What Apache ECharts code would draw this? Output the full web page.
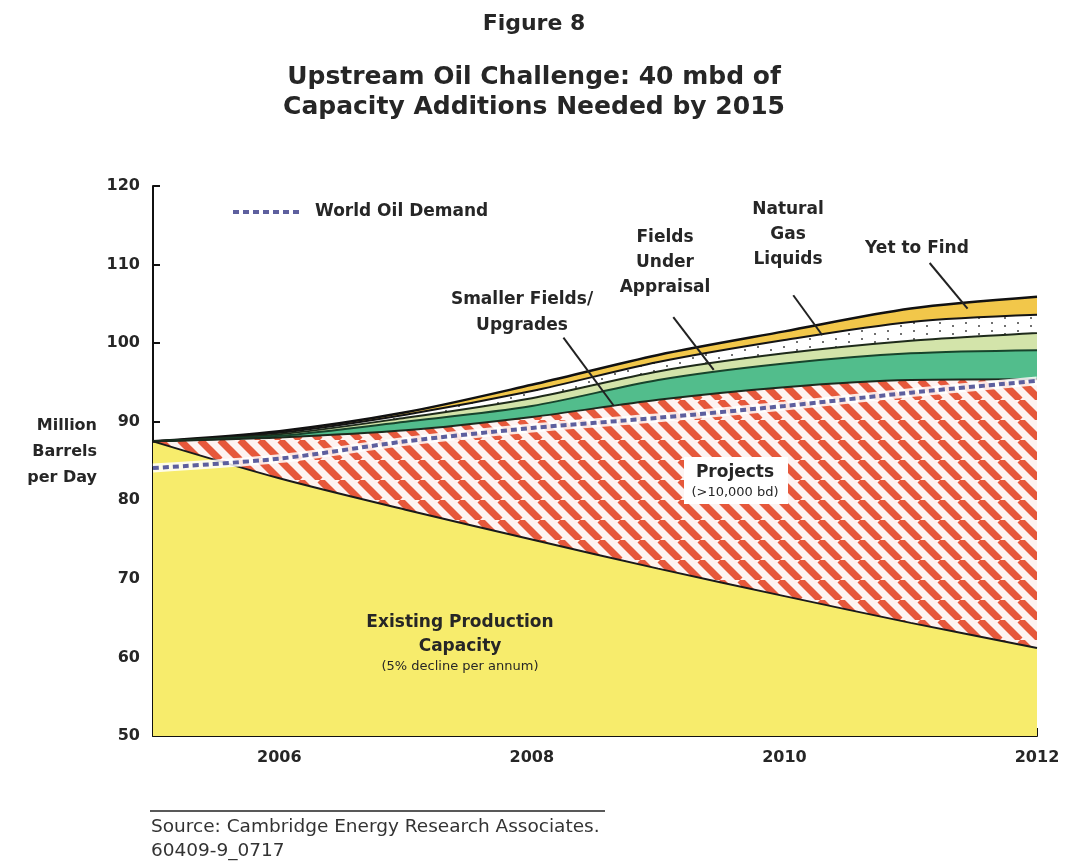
<!DOCTYPE html>
<html>
<head>
<meta charset="utf-8">
<title>Upstream Oil Challenge</title>
<script src="https://cdn.jsdelivr.net/npm/echarts@6/dist/echarts.min.js"></script>
<style>
  html, body { margin: 0; padding: 0; background: #ffffff; }
  #chart { width: 1068px; height: 864px; }
</style>
</head>
<body>
<div id="chart"></div>
<script>
// Supply build-up, million barrels per day (layer increments) and demand line
const years = [2005, 2006, 2007, 2008, 2009, 2010, 2011, 2012];
const existingCapacity     = [87.5, 82.8, 78.8, 75.0, 71.3, 67.8, 64.4, 61.2];
const projects             = [0, 5.2, 10.1, 15.6, 21.5, 26.6, 30.9, 34.2];
const smallerFields        = [0, 0.2, 1.1, 1.4, 2.5, 3.0, 3.4, 3.7];
const fieldsUnderAppraisal = [0, 0.2, 0.5, 1.0, 1.1, 1.3, 1.6, 2.2];
const naturalGasLiquids    = [0, 0.2, 0.4, 0.9, 1.2, 1.7, 2.4, 2.3];
const yetToFind            = [0, 0.2, 0.3, 0.8, 0.9, 1.1, 1.7, 2.3];
const worldOilDemand       = [84.1, 85.3, 87.5, 89.2, 90.5, 92.0, 93.7, 95.2];

const yTicks = [50, 60, 70, 80, 90, 100, 110, 120];
const xLabelYears = [2006, 2008, 2010, 2012];

// Running totals: each layer is drawn as the cumulative top of the stack
const layerList = [existingCapacity, projects, smallerFields, fieldsUnderAppraisal, naturalGasLiquids, yetToFind];
const cumulative = [];
layerList.forEach((vals, k) => {
  cumulative.push(vals.map((v, i) => v + (k > 0 ? cumulative[k - 1][i] : 0)));
});
const pairs = (vals) => years.map((y, i) => [y, +vals[i].toFixed(2)]);

// Diagonal red hatch for the "Projects" layer
function hatchPattern() {
  const s = 20;
  const c = document.createElement('canvas');
  c.width = s; c.height = s;
  const g = c.getContext('2d');
  g.fillStyle = '#fdf3f1';
  g.fillRect(0, 0, s, s);
  g.strokeStyle = '#e6583b';
  g.lineWidth = 7;
  for (let k = -1; k <= 1; k++) {
    g.beginPath();
    g.moveTo(k * s, 0);
    g.lineTo(k * s + s, s);
    g.stroke();
  }
  return c;
}

// Sparse dots for the natural gas liquids layer
function dotPattern() {
  const c = document.createElement('canvas');
  c.width = 26; c.height = 8;
  const g = c.getContext('2d');
  g.fillStyle = '#ffffff';
  g.fillRect(0, 0, 26, 8);
  g.fillStyle = '#707070';
  g.fillRect(3, 2, 2, 2);
  g.fillRect(16, 5, 2, 2);
  return c;
}

const FONT = '"DejaVu Sans", Verdana, sans-serif';
const TXT = '#262626';

function layer(name, cum, fill, lineColor, lineWidth) {
  return {
    name: name,
    type: 'line',
    data: pairs(cum),
    smooth: 0.3,
    showSymbol: false,
    symbol: 'none',
    lineStyle: { color: lineColor, width: lineWidth },
    areaStyle: { color: fill, opacity: 1, origin: 'start' },
    emphasis: { disabled: true },
    z: 2
  };
}

const chart = echarts.init(document.getElementById('chart'), null, { renderer: 'canvas' });

const pointer = (from, to) => [{ coord: from }, { coord: to }];

const boldText = (x, y, text, size, lh) => ({
  type: 'text', x: x, y: y, z: 100,
  style: { text: text, font: 'bold ' + size + 'px ' + FONT, fill: TXT, align: 'center', lineHeight: lh || size + 8 }
});

const option = {
  backgroundColor: '#ffffff',
  animation: false,
  textStyle: { fontFamily: FONT },
  title: [
    { text: 'Figure 8', left: 'center', top: 8,
      textStyle: { fontFamily: FONT, fontSize: 22, fontWeight: 'bold', color: TXT } },
    { text: 'Upstream Oil Challenge: 40 mbd of\nCapacity Additions Needed by 2015', left: 'center', top: 57,
      textStyle: { fontFamily: FONT, fontSize: 25, fontWeight: 'bold', color: TXT, lineHeight: 30 } }
  ],
  grid: { left: 153, right: 31, top: 186, bottom: 128, containLabel: false },
  xAxis: {
    type: 'value',
    min: 2005, max: 2012, interval: 1,
    axisLine: { show: true, lineStyle: { color: '#111', width: 2 } },
    axisTick: { show: true, inside: true, length: 8, lineStyle: { color: '#111', width: 2 } },
    splitLine: { show: false },
    axisLabel: {
      margin: 14,
      fontFamily: FONT, fontSize: 16, fontWeight: 'bold', color: TXT,
      formatter: (v) => (xLabelYears.indexOf(v) >= 0 ? String(v) : '')
    }
  },
  yAxis: {
    type: 'value',
    min: yTicks[0], max: yTicks[yTicks.length - 1], interval: 10,
    axisLine: { show: true, lineStyle: { color: '#111', width: 2 } },
    axisTick: { show: true, inside: true, length: 7, lineStyle: { color: '#111', width: 2 } },
    splitLine: { show: false },
    axisLabel: { margin: 13, fontFamily: FONT, fontSize: 16, fontWeight: 'bold', color: TXT }
  },
  // Drawn top layer first so each lower layer covers the part beneath it
  series: [
    layer('Yet to Find', cumulative[5], '#f2c74a', '#111111', 2.5),
    layer('Natural Gas Liquids', cumulative[4], { image: dotPattern(), repeat: 'repeat' }, '#141414', 2),
    layer('Fields Under Appraisal', cumulative[3], '#d3e4aa', '#1e2a1a', 2),
    layer('Smaller Fields/Upgrades', cumulative[2], '#52bd8c', '#17442c', 2),
    layer('Projects', cumulative[1], { image: hatchPattern(), repeat: 'repeat' }, '#1c2a1e', 2),
    layer('Existing Production Capacity', cumulative[0], '#f7ec6c', '#1a1a1a', 2),
    {
      name: 'demand halo',
      type: 'line',
      data: pairs(worldOilDemand),
      smooth: 0.3, showSymbol: false, symbol: 'none',
      lineStyle: { color: 'rgba(255,255,255,0.85)', width: 9 },
      emphasis: { disabled: true },
      z: 4
    },
    {
      name: 'World Oil Demand',
      type: 'line',
      data: pairs(worldOilDemand),
      smooth: 0.3, showSymbol: false, symbol: 'none',
      lineStyle: { color: '#5d5f9e', width: 4, type: [6, 4] },
      emphasis: { disabled: true },
      z: 5,
      markLine: {
        silent: true,
        symbol: ['none', 'none'],
        label: { show: false },
        lineStyle: { color: '#222', width: 2, type: 'solid' },
        data: [
          pointer([2008.25, 100.7], [2008.65, 92.0]),
          pointer([2009.12, 103.3], [2009.44, 96.6]),
          pointer([2010.07, 106.1], [2010.30, 101.0]),
          pointer([2011.15, 110.2], [2011.45, 104.4])
        ]
      }
    }
  ],
  graphic: [
    // legend entry for the demand line
    { type: 'line', z: 100, shape: { x1: 233, y1: 212, x2: 301, y2: 212 },
      style: { stroke: '#5d5f9e', lineWidth: 4, lineDash: [6, 4] } },
    { type: 'text', z: 100, x: 315, y: 212,
      style: { text: 'World Oil Demand', font: 'bold 17px ' + FONT, fill: TXT, verticalAlign: 'middle' } },
    // y-axis title
    { type: 'text', z: 100, x: 97, y: 413,
      style: { text: 'Million\nBarrels\nper Day', font: 'bold 16px ' + FONT, fill: TXT, align: 'right', lineHeight: 26 } },
    // layer annotations
    boldText(522, 287, 'Smaller Fields/\nUpgrades', 17, 26),
    boldText(665, 225, 'Fields\nUnder\nAppraisal', 17, 25),
    boldText(788, 197, 'Natural\nGas\nLiquids', 17, 25),
    boldText(917, 236, 'Yet to Find', 17),
    // white panel behind the projects caption
    { type: 'rect', z: 99, shape: { x: 684, y: 457, width: 104, height: 47 },
      style: { fill: '#ffffff' } },
    boldText(735, 460, 'Projects', 17),
    { type: 'text', z: 100, x: 735, y: 486,
      style: { text: '(>10,000 bd)', font: '13px ' + FONT, fill: TXT, align: 'center' } },
    boldText(460, 611, 'Existing Production\nCapacity', 17, 24),
    { type: 'text', z: 100, x: 460, y: 660,
      style: { text: '(5% decline per annum)', font: '13px ' + FONT, fill: TXT, align: 'center' } },
    // source note
    { type: 'line', z: 100, shape: { x1: 150, y1: 811, x2: 605, y2: 811 }, style: { stroke: '#222', lineWidth: 1.5 } },
    { type: 'text', z: 100, x: 151, y: 815,
      style: { text: 'Source: Cambridge Energy Research Associates.\n60409-9_0717', font: '18.5px ' + FONT, fill: '#333', lineHeight: 24 } }
  ]
};

chart.setOption(option);
</script>
</body>
</html>
